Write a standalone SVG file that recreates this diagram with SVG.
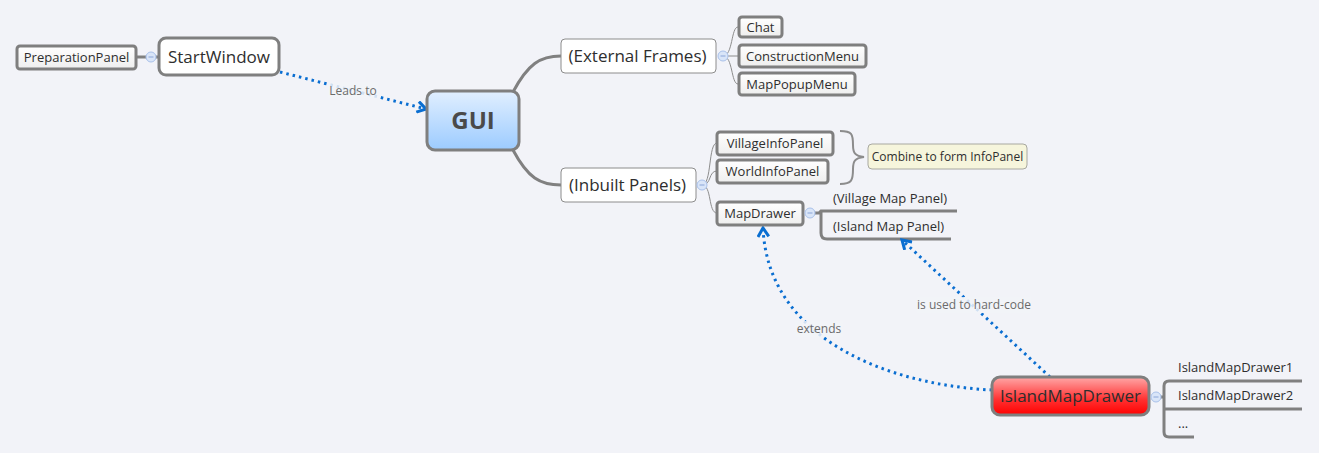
<svg xmlns="http://www.w3.org/2000/svg" width="1319" height="453" viewBox="0 0 1319 453">
<defs>
<style>
text{font-family:"Open Sans","DejaVu Sans",sans-serif;fill:#2e2e2e}
.leaf{fill:url(#leafg);stroke:#7f7f7f;stroke-width:3}
.t13{font-size:13px}
.br{fill:none;stroke:#808080;stroke-width:3}
.thin{fill:none;stroke:#8c8c8c;stroke-width:1}
.rel{fill:none;stroke:#0a6ed1;stroke-width:3;stroke-dasharray:2.5 4}
.lbl{font-size:12px;fill:#6b6b6b}
.col{fill:#d9e5f8;stroke:#a9c1ea;stroke-width:1}
.ln{stroke:#808080;stroke-width:3}
</style>
<linearGradient id="leafg" x1="0" y1="0" x2="0" y2="1"><stop offset="0" stop-color="#ffffff"/><stop offset="1" stop-color="#eeeeee"/></linearGradient>
<linearGradient id="guig" x1="0" y1="0" x2="0" y2="1"><stop offset="0" stop-color="#e1efff"/><stop offset="1" stop-color="#9ccbff"/></linearGradient>
<linearGradient id="redg" x1="0" y1="0" x2="0" y2="1"><stop offset="0" stop-color="#ffa8a8"/><stop offset="0.6" stop-color="#ff3030"/><stop offset="1" stop-color="#ff0000"/></linearGradient>
<marker id="arr" viewBox="0 0 12 12" refX="10" refY="6" markerWidth="13" markerHeight="13" markerUnits="userSpaceOnUse" orient="auto">
<path d="M2,1 L10,6 L2,11" fill="none" stroke="#0a6ed1" stroke-width="2.8"/>
</marker>
</defs>
<rect width="1319" height="453" fill="#f2f3f8"/>

<g id="connectors">
<line class="ln" x1="136" y1="57" x2="159" y2="57"/>
<path class="br" d="M513,92 C528,64 540,56 561,56"/>
<path class="br" d="M513,150 C528,178 540,185 561,185"/>
<path class="thin" d="M723,56 C733,56 731,27 738,27"/>
<path class="thin" d="M723,56 L738,56"/>
<path class="thin" d="M723,56 C733,56 731,84 738,84"/>
<path class="thin" d="M702,185 C712,185 708,143 717,143"/>
<path class="thin" d="M702,185 C712,185 708,171 717,171"/>
<path class="thin" d="M702,185 C712,185 708,213 717,213"/>
<path class="br" d="M813,213 L819,213 L821,211 L957,211"/>
<path class="br" d="M821,211 L821,233 Q821,239 827,239 L951,239"/>
<path class="br" d="M1159,397 L1164,397"/>
<path class="br" d="M1302,381 L1169,381 Q1164,381 1164,386 L1164,432 Q1164,437 1169,437 L1194,437"/>
<path class="br" d="M1164,409 L1302,409"/>
<path d="M840,131 C852,131 853,134 853,145 C853,153 855,156 864,157 C855,158 853,161 853,169 C853,180 852,184 840,184" fill="none" stroke="#8c8c8c" stroke-width="2"/>
<path class="rel" d="M280,72 L426,109" marker-end="url(#arr)"/>
<path class="rel" d="M992,390 C890,385 768,340 763,228" marker-end="url(#arr)"/>
<path class="rel" d="M1050,377 L902,240" marker-end="url(#arr)"/>
<rect x="328" y="82" width="50" height="16" fill="#f2f3f8" opacity="0.85"/>
<text class="lbl" x="353" y="95" text-anchor="middle">Leads to</text>
<rect x="795" y="321" width="48" height="16" fill="#f2f3f8" opacity="0.85"/>
<text class="lbl" x="819" y="333" text-anchor="middle">extends</text>
<rect x="917" y="297" width="114" height="16" fill="#f2f3f8" opacity="0.85"/>
<text class="lbl" x="974" y="309" text-anchor="middle">is used to hard-code</text>
</g>

<g id="PreparationPanel"><rect class="leaf" x="17" y="46" width="119" height="23" rx="3"/><text class="t13" x="76.5" y="62" text-anchor="middle">PreparationPanel</text></g>
<g id="StartWindow"><rect x="159" y="38" width="120" height="37" rx="7" fill="#fff" stroke="#7f7f7f" stroke-width="3"/><text x="219" y="63" font-size="17" text-anchor="middle">StartWindow</text>
<circle class="col" cx="151" cy="57" r="5"/><line x1="148.5" y1="57" x2="153.5" y2="57" stroke="#8aa5d8"/></g>
<g id="GUI"><rect x="427" y="91" width="92" height="59" rx="8" fill="url(#guig)" stroke="#7f7f7f" stroke-width="3"/><text x="473" y="129" font-size="24" font-weight="bold" text-anchor="middle" style="fill:#4a4a4a">GUI</text></g>
<g id="ExternalFrames"><rect x="561" y="39" width="155" height="34" rx="4" fill="#fff" stroke="#8c8c8c" stroke-width="1"/><text x="637.5" y="62" font-size="17" text-anchor="middle">(External Frames)</text>
<circle class="col" cx="723" cy="56" r="5"/><line x1="720.5" y1="56" x2="725.5" y2="56" stroke="#8aa5d8"/></g>
<g id="InbuiltPanels"><rect x="561" y="168" width="135" height="34" rx="4" fill="#fff" stroke="#8c8c8c" stroke-width="1"/><text x="627.5" y="191" font-size="17" text-anchor="middle">(Inbuilt Panels)</text>
<circle class="col" cx="702" cy="185" r="5"/><line x1="699.5" y1="185" x2="704.5" y2="185" stroke="#8aa5d8"/></g>
<g id="Chat"><rect class="leaf" x="739" y="17" width="43" height="20" rx="3"/><text class="t13" x="760.5" y="32" text-anchor="middle">Chat</text></g>
<g id="ConstructionMenu"><rect class="leaf" x="739" y="45" width="127" height="22" rx="3"/><text class="t13" x="802.5" y="61" text-anchor="middle">ConstructionMenu</text></g>
<g id="MapPopupMenu"><rect class="leaf" x="739" y="73" width="116" height="22" rx="3"/><text class="t13" x="797" y="89" text-anchor="middle">MapPopupMenu</text></g>
<g id="VillageInfoPanel"><rect class="leaf" x="717" y="132" width="116" height="23" rx="3"/><text class="t13" x="775" y="148" text-anchor="middle">VillageInfoPanel</text></g>
<g id="WorldInfoPanel"><rect class="leaf" x="717" y="160" width="111" height="23" rx="3"/><text class="t13" x="772.5" y="176" text-anchor="middle">WorldInfoPanel</text></g>
<g id="MapDrawer"><rect class="leaf" x="717" y="202" width="86" height="23" rx="3"/><text class="t13" x="760" y="218" text-anchor="middle">MapDrawer</text>
<circle class="col" cx="810" cy="213" r="5"/><line x1="807.5" y1="213" x2="812.5" y2="213" stroke="#8aa5d8"/></g>
<g id="Combine"><rect x="868" y="144" width="159" height="25" rx="4" fill="#f6f5dc" stroke="#a8a8a0" stroke-width="1"/><text x="947.5" y="161" font-size="12" text-anchor="middle">Combine to form InfoPanel</text></g>
<g id="VillageMapPanel"><text x="833" y="203" font-size="13">(Village Map Panel)</text></g>
<g id="IslandMapPanel"><text x="833" y="231" font-size="13">(Island Map Panel)</text></g>
<g id="IslandMapDrawer"><rect x="992" y="377" width="157" height="38" rx="8" fill="url(#redg)" stroke="#7f7f7f" stroke-width="3"/><text x="1070.5" y="402" font-size="17" text-anchor="middle">IslandMapDrawer</text>
<circle class="col" cx="1156" cy="397" r="5"/><line x1="1153.5" y1="397" x2="1158.5" y2="397" stroke="#8aa5d8"/></g>
<g id="IslandMapDrawer1"><text x="1178" y="372" font-size="13">IslandMapDrawer1</text></g>
<g id="IslandMapDrawer2"><text x="1178" y="400" font-size="13">IslandMapDrawer2</text></g>
<g id="Ellipsis"><text x="1178" y="428" font-size="13">...</text></g>
</svg>
